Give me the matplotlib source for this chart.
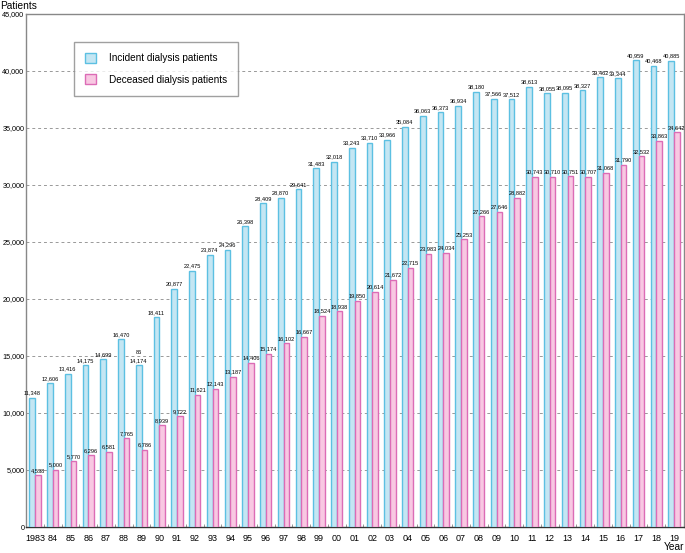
import matplotlib.pyplot as plt
import matplotlib.patches as mpatches
import matplotlib.ticker as ticker
from matplotlib import font_manager
import numpy as np

years = ["1983", "84", "85", "86", "87", "88", "89", "90", "91", "92", "93", "94",
         "95", "96", "97", "98", "99", "00", "01", "02", "03", "04", "05", "06",
         "07", "08", "09", "10", "11", "12", "13", "14", "15", "16", "17", "18", "19"]
incident = [11348, 12606, 13416, 14175, 14699, 16470, 14174, 18411, 20877, 22475,
            23874, 24296, 26398, 28409, 28870, 29641, 31483, 32018, 33243, 33710,
            33966, 35084, 36063, 36373, 36934, 38180, 37566, 37512, 38613, 38055,
            38095, 38327, 39462, 39344, 40959, 40468, 40885]
deceased = [4538, 5000, 5770, 6296, 6581, 7765, 6786, 8939, 9722, 11621,
            12143, 13187, 14406, 15174, 16102, 16667, 18524, 18938, 19850, 20614,
            21672, 22715, 23983, 24034, 25253, 27266, 27646, 28882, 30743, 30710,
            30751, 30707, 31068, 31790, 32532, 33863, 34642]

BLUE_FACE = "#c4e6f3"
BLUE_EDGE = "#5cc0e2"
PINK_FACE = "#f8c8e2"
PINK_EDGE = "#dc6cb6"


def pick_font(names):
    for n in names:
        try:
            font_manager.findfont(n, fallback_to_default=False)
            return n
        except Exception:
            pass
    return "DejaVu Sans"


NARROW = pick_font(["Liberation Sans Narrow", "DejaVu Sans Condensed", "Liberation Sans"])
PLAIN = pick_font(["Liberation Sans", "DejaVu Sans"])

fig = plt.figure(figsize=(6.85, 5.53), dpi=100)
ax = fig.add_axes([26 / 685, 1 - 527 / 553, 658 / 685, 513 / 553])

x = np.arange(len(years))
w = 0.32
ax.bar(x - w / 2, incident, width=w, color=BLUE_FACE, edgecolor=BLUE_EDGE,
       linewidth=1.0, zorder=3)
ax.bar(x + w / 2, deceased, width=w, color=PINK_FACE, edgecolor=PINK_EDGE,
       linewidth=1.0, zorder=3)

lab_size = 4.6 if NARROW == "Liberation Sans Narrow" else 4.1
for i in range(len(years)):
    ax.text(x[i] - w / 2, incident[i] + 200, f"{incident[i]:,}", ha="center",
            va="bottom", fontsize=lab_size, family=NARROW, zorder=4)
    ax.text(x[i] + w / 2, deceased[i] + 200, f"{deceased[i]:,}", ha="center",
            va="bottom", fontsize=lab_size, family=NARROW, zorder=4)
# stray label in the source picture
ax.text(x[6] - w / 2, incident[6] + 950, "86", ha="center", va="bottom",
        fontsize=lab_size, family=NARROW)

ax.set_xlim(-0.51, 36.56)
ax.set_ylim(0, 45000)
ax.yaxis.set_major_locator(ticker.MultipleLocator(5000))
ax.yaxis.set_major_formatter(ticker.FuncFormatter(lambda v, p: f"{int(v):,}"))
ax.set_xticks(x)
ax.set_xticklabels(years, family=NARROW, fontsize=6.5)
ax.set_xticks(x[:-1] + 0.5, minor=True)
ax.tick_params(axis="y", labelsize=5.2, length=0, pad=1.2)
for lbl in ax.get_yticklabels():
    lbl.set_family(PLAIN)
ax.tick_params(axis="x", which="major", length=0, pad=5)
ax.tick_params(axis="x", which="minor", length=2.5, direction="in", color="#888888")

ax.grid(axis="y", linestyle=(0, (3, 3)), color="#999999", linewidth=0.7, zorder=0)
for s in ax.spines.values():
    s.set_color("#888888")
    s.set_linewidth(1.0)
ax.spines["bottom"].set_color("#333333")

fig.text(0.0, 1 - 6 / 553, "Patients", fontsize=7.3, family=PLAIN, va="center", ha="left")
fig.text(1 - 1 / 685, 1 - 547 / 553, "Year", fontsize=7.3, family=PLAIN, va="center", ha="right")

handles = [
    mpatches.Patch(facecolor=BLUE_FACE, edgecolor=BLUE_EDGE, label="Incident dialysis patients"),
    mpatches.Patch(facecolor=PINK_FACE, edgecolor=PINK_EDGE, label="Deceased dialysis patients"),
]
leg = ax.legend(handles=handles, loc="upper left", bbox_to_anchor=(0.073, 0.945),
                prop={"family": PLAIN, "size": 7.2}, frameon=True, fancybox=False,
                borderpad=1.1, labelspacing=1.1, handlelength=1.1, handleheight=1.1,
                handletextpad=1.3, borderaxespad=0)
leg.get_frame().set_edgecolor("#888888")
leg.get_frame().set_linewidth(1.0)
leg.set_zorder(5)

fig.savefig("out.png", dpi=100)
